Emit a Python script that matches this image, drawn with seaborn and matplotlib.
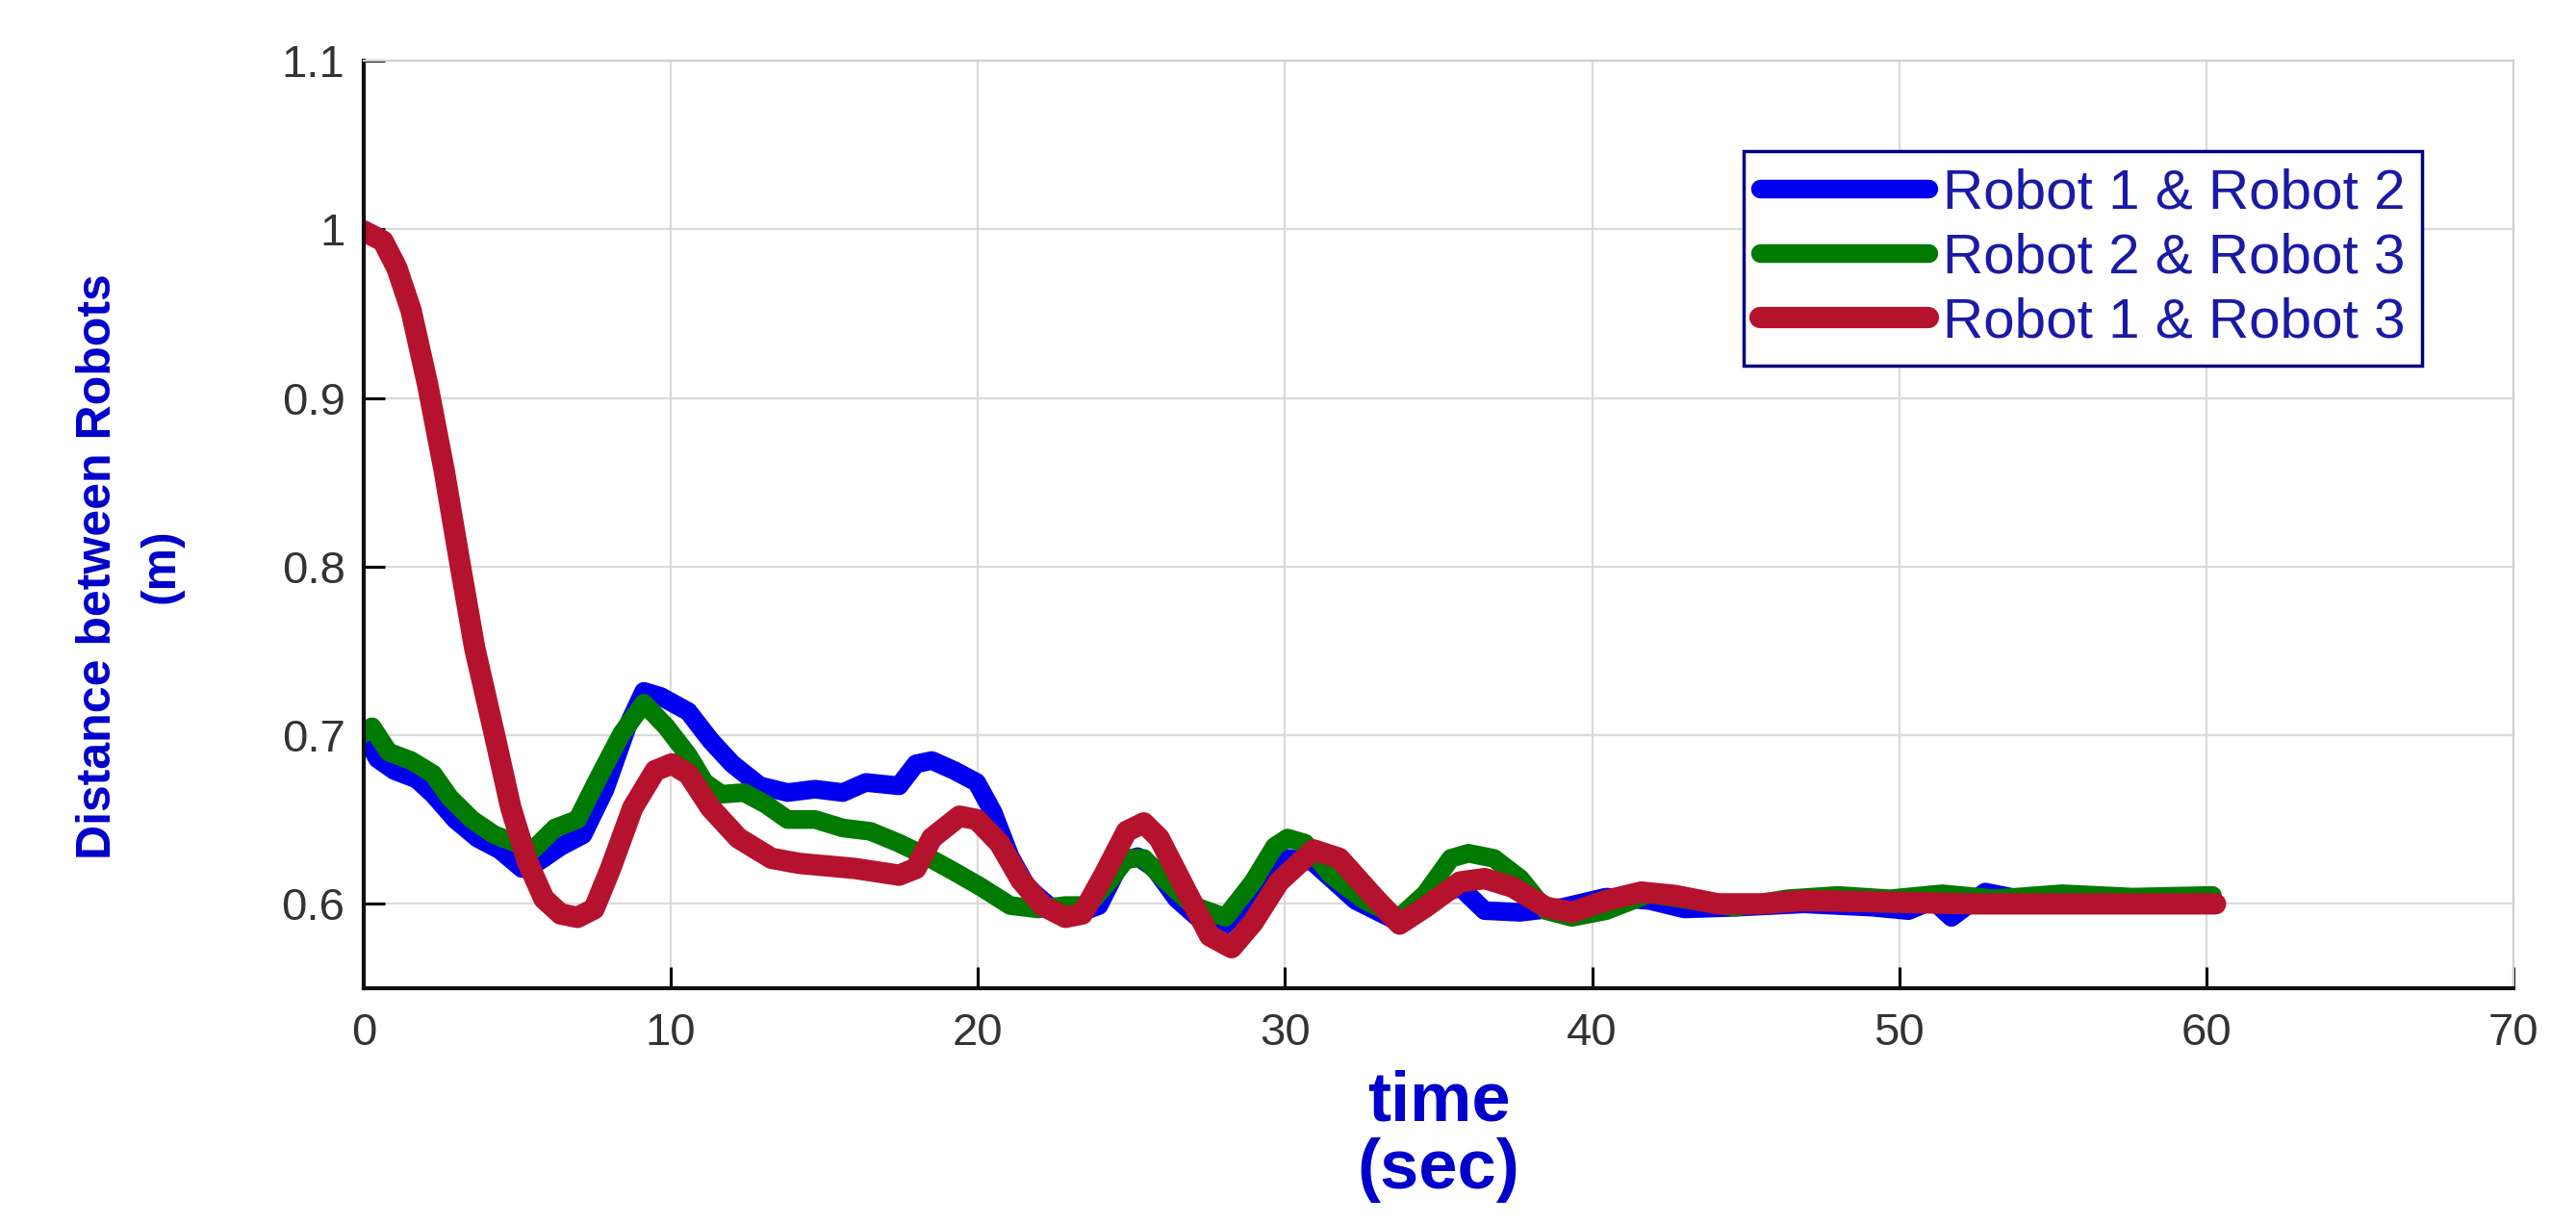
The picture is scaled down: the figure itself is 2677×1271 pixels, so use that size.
import matplotlib
matplotlib.use("Agg")
import matplotlib.pyplot as plt
import seaborn as sns

# Data
t_12 = [0, 0.45, 1.0, 1.72, 2.26, 2.98, 3.7, 4.43, 5.15, 5.69, 6.41, 7.14, 7.86, 8.58, 9.12, 9.67,
        10.57, 11.29, 12.0, 12.9, 13.8, 14.7, 15.6, 16.35, 17.43, 17.98, 18.5, 19.24, 19.96, 20.5,
        21.05, 21.6, 22.3, 23.2, 23.94, 24.66, 25.2, 25.75, 26.47, 27.4, 27.9, 28.96, 30.08, 30.9,
        32.3, 33.73, 34.85, 35.7, 36.5, 37.66, 39.06, 40.46, 41.87, 43.0, 44.67, 46.9, 49.15, 50.3,
        51.1, 51.7, 52.8, 53.9, 55.3, 58.1, 60.2]
d_12 = [0.701, 0.686, 0.679, 0.674, 0.665, 0.650, 0.639, 0.632, 0.621, 0.625, 0.634, 0.641, 0.668,
        0.705, 0.726, 0.723, 0.714, 0.697, 0.683, 0.670, 0.666, 0.668, 0.666, 0.672, 0.670, 0.683,
        0.685, 0.679, 0.672, 0.654, 0.628, 0.610, 0.599, 0.594, 0.599, 0.625, 0.628, 0.621, 0.603,
        0.588, 0.585, 0.604, 0.627, 0.625, 0.602, 0.589, 0.604, 0.610, 0.596, 0.595, 0.598, 0.604,
        0.602, 0.597, 0.598, 0.600, 0.598, 0.596, 0.602, 0.592, 0.607, 0.603, 0.601, 0.601, 0.601]

t_23 = [0, 0.27, 0.81, 1.54, 2.26, 2.8, 3.52, 4.25, 4.97, 5.51, 6.23, 6.96, 7.68, 8.4, 9.12, 9.85,
        10.57, 11.1, 11.65, 12.38, 13.1, 13.8, 14.7, 15.6, 16.5, 17.43, 18.34, 19.24, 20.1, 21.05,
        21.95, 22.85, 23.58, 24.3, 24.84, 25.4, 26.1, 27.0, 28.06, 28.96, 29.66, 30.08, 30.65, 31.5,
        32.6, 33.73, 34.57, 35.4, 35.97, 36.8, 37.66, 38.5, 39.34, 40.46, 41.87, 43.27, 44.67, 46.35,
        48.0, 49.7, 51.4, 53.1, 55.3, 57.6, 60.2]
d_23 = [0.701, 0.705, 0.690, 0.685, 0.677, 0.663, 0.650, 0.641, 0.636, 0.632, 0.645, 0.650, 0.676,
        0.701, 0.719, 0.705, 0.688, 0.672, 0.665, 0.666, 0.659, 0.650, 0.650, 0.645, 0.643, 0.636,
        0.628, 0.619, 0.610, 0.599, 0.597, 0.599, 0.599, 0.614, 0.627, 0.627, 0.614, 0.599, 0.592,
        0.613, 0.634, 0.639, 0.636, 0.617, 0.602, 0.592, 0.606, 0.627, 0.630, 0.627, 0.615, 0.596,
        0.592, 0.596, 0.606, 0.602, 0.598, 0.603, 0.605, 0.603, 0.606, 0.603, 0.606, 0.604, 0.605]

t_13 = [0, 0.63, 1.08, 1.54, 2.08, 2.62, 3.16, 3.61, 4.25, 4.79, 5.33, 5.87, 6.41, 6.96, 7.5, 8.04,
        8.76, 9.49, 10.03, 10.57, 11.29, 12.2, 13.28, 14.18, 15.99, 17.43, 17.98, 18.5, 19.4, 19.96,
        20.7, 21.4, 22.1, 22.85, 23.4, 24.1, 24.84, 25.4, 25.9, 26.8, 27.55, 28.26, 28.96, 29.8,
        30.93, 31.77, 32.9, 33.73, 34.57, 35.7, 36.5, 37.4, 38.5, 39.34, 40.46, 41.6, 42.7, 44.1,
        45.5, 46.9, 49.7, 52.5, 55.3, 60.3]
d_13 = [0.999, 0.993, 0.977, 0.952, 0.908, 0.857, 0.799, 0.752, 0.701, 0.657, 0.625, 0.603, 0.594,
        0.592, 0.597, 0.621, 0.657, 0.679, 0.683, 0.677, 0.657, 0.639, 0.627, 0.624, 0.621, 0.617,
        0.621, 0.639, 0.652, 0.650, 0.636, 0.614, 0.599, 0.592, 0.594, 0.617, 0.643, 0.648, 0.639,
        0.607, 0.581, 0.574, 0.589, 0.613, 0.632, 0.627, 0.604, 0.588, 0.598, 0.613, 0.615, 0.610,
        0.598, 0.595, 0.602, 0.607, 0.605, 0.600, 0.600, 0.602, 0.601, 0.600, 0.600, 0.600]

labels = ["Robot 1 & Robot 2", "Robot 2 & Robot 3", "Robot 1 & Robot 3"]
colors = ["#0000ee", "#007a00", "#b5122e"]
x_ticks = [0, 10, 20, 30, 40, 50, 60, 70]
y_ticks = [0.6, 0.7, 0.8, 0.9, 1.0, 1.1]
y_tick_labels = ["0.6", "0.7", "0.8", "0.9", "1", "1.1"]

sns.set_style("whitegrid")
plt.rcParams["font.family"] = ["Liberation Sans", "DejaVu Sans"]

fig = plt.figure(figsize=(26.77, 12.71), dpi=100)
ax = fig.add_axes([0.1412, 0.192, 0.8345, 0.7584])

series = [(t_12, d_12), (t_23, d_23), (t_13, d_13)]
widths = [14, 14, 16]
for (t, d), lab, col, lw in zip(series, labels, colors, widths):
    sns.lineplot(x=t, y=d, ax=ax, color=col, linewidth=lw, label=lab,
                 solid_capstyle="round", solid_joinstyle="round")

ax.set_xlim(0, 70)
ax.set_ylim(0.55, 1.1)
ax.set_xticks(x_ticks)
ax.set_yticks(y_ticks)
ax.set_yticklabels(y_tick_labels)
ax.tick_params(axis="both", which="both", direction="in", length=16, width=2.2,
               labelsize=34, labelcolor="#333333", color="black",
               left=True, bottom=True)
ax.tick_params(axis="y", pad=14)
ax.tick_params(axis="x", pad=18)

ax.grid(True, color="#dadada", linewidth=1.6)
for side in ["left", "bottom"]:
    ax.spines[side].set_color("#111111")
    ax.spines[side].set_linewidth(3)
for side in ["top", "right"]:
    ax.spines[side].set_color("#d0d0d0")
    ax.spines[side].set_linewidth(1.6)

ax.set_xlabel("time\n(sec)", fontsize=52, fontweight="bold", color="#0000cc", linespacing=1.05)
ax.xaxis.set_label_coords(0.5, -0.088, transform=ax.transAxes)
ax.xaxis.label.set_verticalalignment("top")
ax.set_ylabel("Distance between Robots\n(m)", fontsize=36, fontweight="bold", color="#0000cc",
              linespacing=1.55)
ax.yaxis.set_label_coords(-0.084, 0.455, transform=ax.transAxes)

leg = ax.legend(loc="upper right", bbox_to_anchor=(0.9575, 0.9025), borderaxespad=0,
                fontsize=42, frameon=True, fancybox=False, handlelength=3.0,
                handletextpad=0.25, labelspacing=0.22, borderpad=0.3)
leg.get_frame().set_edgecolor("#000080")
leg.get_frame().set_linewidth(2.5)
leg.get_frame().set_alpha(1)
for txt in leg.get_texts():
    txt.set_color("#1a1aa6")

fig.savefig("out.png", dpi=100)
